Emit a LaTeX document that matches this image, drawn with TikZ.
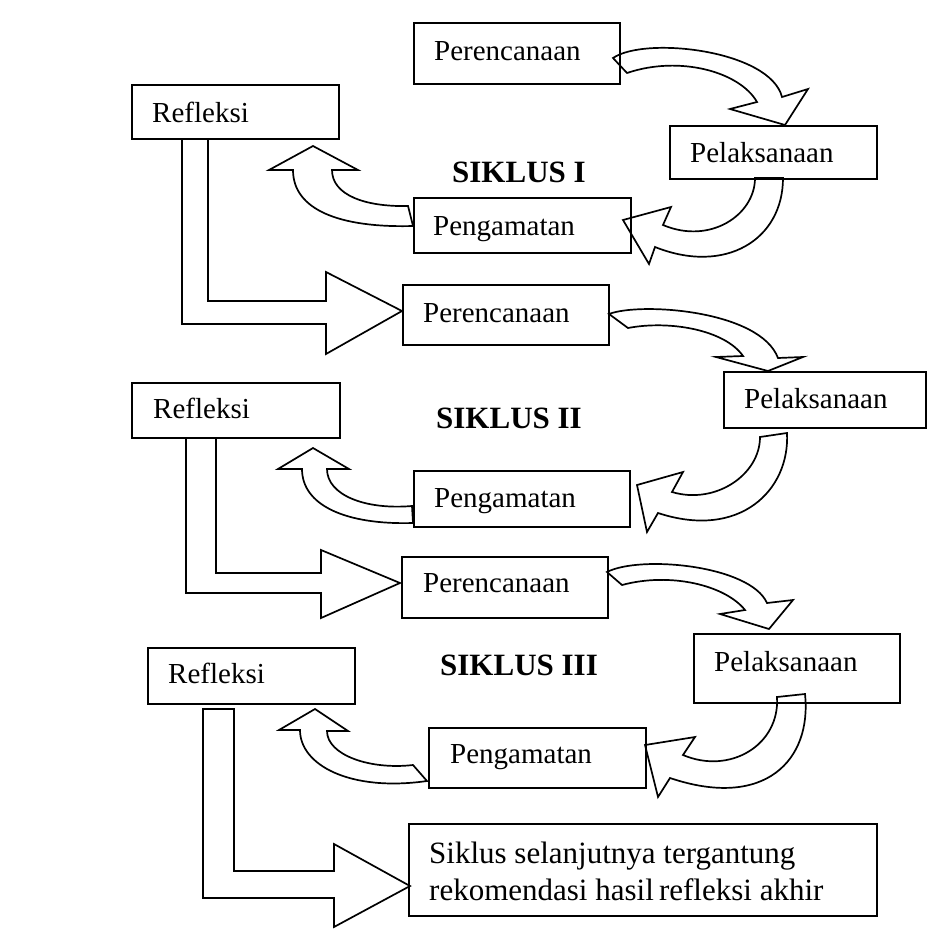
\documentclass[tikz,border=0pt]{standalone}
\usepackage{fontspec}
\setmainfont{Liberation Serif}
\begin{document}
\begin{tikzpicture}[x=1pt,y=-1pt,
  boxnode/.style={draw=black,line width=2pt,rectangle,inner sep=0pt,anchor=north west},
  lbl/.style={inner sep=0pt,anchor=base west,font=\fontsize{29}{33}\selectfont},
  flbl/.style={inner sep=0pt,anchor=base west,font=\fontsize{31}{37}\selectfont},
  ttl/.style={inner sep=0pt,anchor=base west,font=\fontsize{31}{35}\selectfont\bfseries},
  blockarrow/.style={draw=black,fill=white,line width=1.7pt,line join=miter}]
\useasboundingbox (0,0) rectangle (938,951);

% ---------- block arrows (drawn first) ----------
% Perencanaan -> Pelaksanaan
\draw[blockarrow] (613,58) .. controls (645,36) and (770,50) .. (782,97) -- (808,89) -- (785,125) -- (730,109) -- (757,102) .. controls (740,72) and (680,55) .. (627,73) -- cycle;
\draw[blockarrow] (609,314) .. controls (640,302) and (760,310) .. (778,358) -- (803,357) -- (768,371) -- (716,357) -- (743,356) .. controls (725,330) and (670,320) .. (628,328) -- cycle;
\draw[blockarrow] (607,572) .. controls (640,555) and (750,565) .. (767,603) -- (793,600) -- (769,629) -- (720,614) -- (745,610) .. controls (725,585) and (670,572) .. (622,585) -- cycle;

% Pelaksanaan -> Pengamatan
\draw[blockarrow] (783,178) .. controls (783,240) and (725,275) .. (655,247) -- (649,264) -- (623,220) -- (671,207) -- (663,225) .. controls (710,245) and (755,215) .. (755,178) -- cycle;
\draw[blockarrow] (787,433) .. controls (790,490) and (740,540) .. (658,513) -- (647,532) -- (637,485) -- (683,472) -- (672,492) .. controls (715,505) and (760,475) .. (760,437) -- cycle;
\draw[blockarrow] (805,694) .. controls (812,760) and (765,810) .. (670,778) -- (658,797) -- (645,745) -- (695,737) -- (683,755) .. controls (730,775) and (780,745) .. (777,697) -- cycle;

% Pengamatan -> Refleksi
\draw[blockarrow] (408,206) .. controls (365,207) and (332,195) .. (332,170) -- (358,170) -- (313,146) -- (269,170) -- (293,170) .. controls (293,210) and (340,228) .. (413,226) -- cycle;
\draw[blockarrow] (412,506) .. controls (365,510) and (327,495) .. (327,469) -- (349,469) -- (313,448) -- (278,469) -- (302,469) .. controls (302,505) and (345,525) .. (413,523) -- cycle;
\draw[blockarrow] (413,765) .. controls (370,770) and (327,755) .. (327,731) -- (348,731) -- (315,709) -- (279,730) -- (300,730) .. controls (300,765) and (350,792) .. (427,781) -- cycle;

% Refleksi -> next (bent arrows)
\draw[blockarrow] (208,138) -- (208,301) -- (326,301) -- (326,272) -- (402,311) -- (326,354) -- (326,324) -- (182,324) -- (182,138);
\draw[blockarrow] (216,437) -- (216,573) -- (321,573) -- (321,550) -- (400,583) -- (321,618) -- (321,593) -- (186,593) -- (186,437);
\draw[blockarrow] (203,709) -- (234,709) -- (234,871) -- (334,871) -- (334,844) -- (410,886) -- (334,927) -- (334,898) -- (203,898) -- cycle;

% ---------- boxes ----------
% Siklus I
\node[boxnode,minimum width=206pt,minimum height=61pt] (p1) at (413,22) {};
\node[lbl] (p1t) at (434,60) {Perencanaan};
\node[boxnode,minimum width=207pt,minimum height=53pt] (l1) at (669,125) {};
\node[lbl] (l1t) at (690,162) {Pelaksanaan};
\node[boxnode,minimum width=217pt,minimum height=55pt] (g1) at (413,197) {};
\node[lbl] (g1t) at (433,235) {Pengamatan};
\node[boxnode,minimum width=207pt,minimum height=54pt] (r1) at (131,84) {};
\node[lbl] (r1t) at (152,122) {Refleksi};
\node[ttl] (s1) at (452,182) {SIKLUS I};

% Siklus II
\node[boxnode,minimum width=206pt,minimum height=60pt] (p2) at (402,284) {};
\node[lbl] (p2t) at (423,322) {Perencanaan};
\node[boxnode,minimum width=202pt,minimum height=56pt] (l2) at (723,371) {};
\node[lbl] (l2t) at (744,408) {Pelaksanaan};
\node[boxnode,minimum width=216pt,minimum height=56pt] (g2) at (413,470) {};
\node[lbl] (g2t) at (434,507) {Pengamatan};
\node[boxnode,minimum width=208pt,minimum height=55pt] (r2) at (131,382) {};
\node[lbl] (r2t) at (153,418) {Refleksi};
\node[ttl] (s2) at (436,428) {SIKLUS II};

% Siklus III
\node[boxnode,minimum width=206pt,minimum height=61pt] (p3) at (401,556) {};
\node[lbl] (p3t) at (423,592) {Perencanaan};
\node[boxnode,minimum width=206pt,minimum height=69pt] (l3) at (693,633) {};
\node[lbl] (l3t) at (714,671) {Pelaksanaan};
\node[boxnode,minimum width=217pt,minimum height=60pt] (g3) at (428,727) {};
\node[lbl] (g3t) at (450,763) {Pengamatan};
\node[boxnode,minimum width=207pt,minimum height=56pt] (r3) at (147,647) {};
\node[lbl] (r3t) at (168,683) {Refleksi};
\node[ttl] (s3) at (440,675) {SIKLUS III};

% final box
\node[boxnode,minimum width=468pt,minimum height=92pt] (fb) at (408,823) {};
\node[flbl] (f1) at (429,863) {Siklus selanjutnya tergantung};
\node[flbl] (f2) at (429,900) {rekomendasi hasil\,refleksi akhir};
\end{tikzpicture}
\end{document}
